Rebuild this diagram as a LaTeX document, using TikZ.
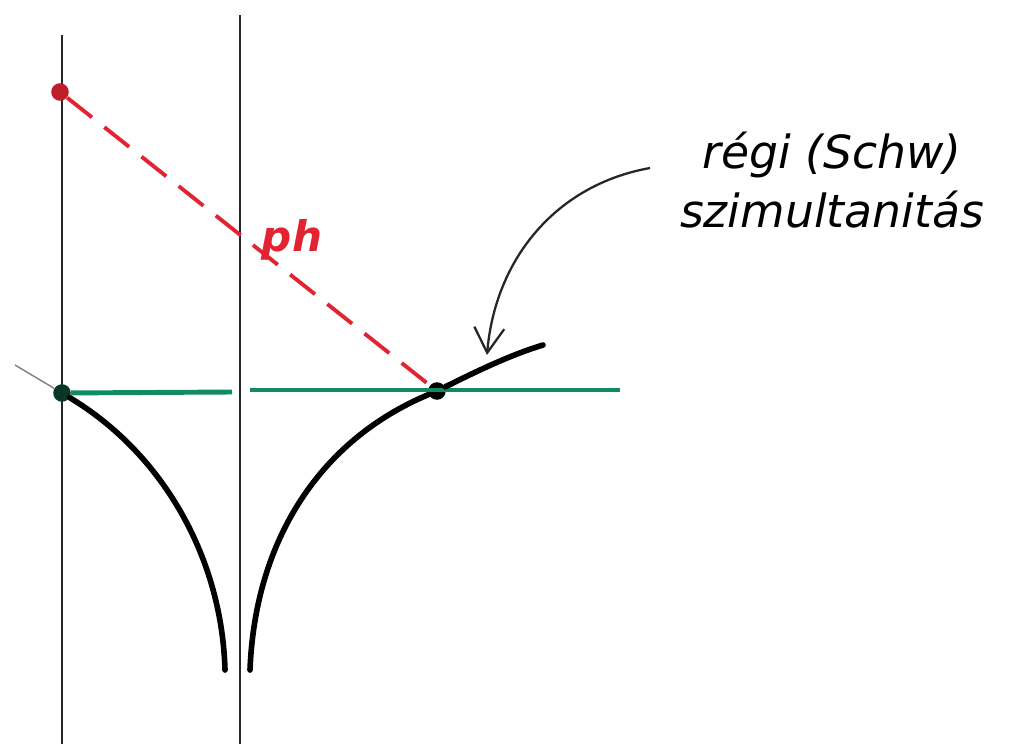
\documentclass[tikz,border=0pt]{standalone}
\usepackage{fontspec}
\setmainfont{DejaVu Sans}
\usetikzlibrary{positioning,arrows.meta}
\definecolor{simulgreen}{RGB}{18,140,95}
\definecolor{phred}{RGB}{225,35,50}

\begin{document}
\begin{tikzpicture}[
  x=0.02cm, y=-0.02cm,
  axis/.style={line width=1.1pt, black!85},
  world/.style={line width=3.2pt, black, line cap=round},
  simul/.style={line width=2.8pt, simulgreen},
  photon/.style={line width=2.2pt, phred, dash pattern=on 18pt off 9pt},
  event/.style={circle, fill, inner sep=0pt, minimum size=10pt},
  note/.style={font=\itshape\fontsize{26}{34}\selectfont, align=center},
  pointer/.style={-{Straight Barb[length=5mm, width=6mm]}, line width=1.3pt, black!85}
]
\useasboundingbox (0,0) rectangle (1013,744);

% two observers' axes
\draw[axis] (62,35) -- (62,744);
\draw[axis] (240,15) -- (240,744);

% events
\node[event, phred!85!black] (emit) at (60,92) {};
\node[event, simulgreen!40!black] (left) at (62,393) {};
\node[event, black] (meet) at (437,391) {};

% simultaneity line
\coordinate (gapl) at (232,392);
\coordinate (gapr) at (250,390);
\coordinate (greenend) at (620,390);
\draw[simul] (left) -- (gapl);
\draw[simul] (gapr) -- (greenend);

% world lines
\coordinate (lefttop) at (15,365);
\coordinate (leftbot) at (225,670);
\coordinate (rightbot) at (250,670);
\coordinate (righttop) at (543,345);
\draw[line width=0.8pt, gray] (lefttop) -- (left);
\draw[world] (left) .. controls (165,455) and (222,560) .. (leftbot);
\draw[world] (rightbot) .. controls (255,540) and (320,440) .. (meet)
  .. controls (475,372) and (510,355) .. (righttop);

% light signal
\draw[photon] (emit) -- (meet);
\node[phred, font=\bfseries\itshape\fontsize{24}{28}\selectfont] (ph) at (292,240) {ph};

% label
\node[note] (regi) at (832,180) {régi (Schw)\\szimultanitás};
\coordinate (tip) at (487,355);
\draw[pointer] (650,168) .. controls (555,185) and (495,260) .. (tip);
\end{tikzpicture}
\end{document}
